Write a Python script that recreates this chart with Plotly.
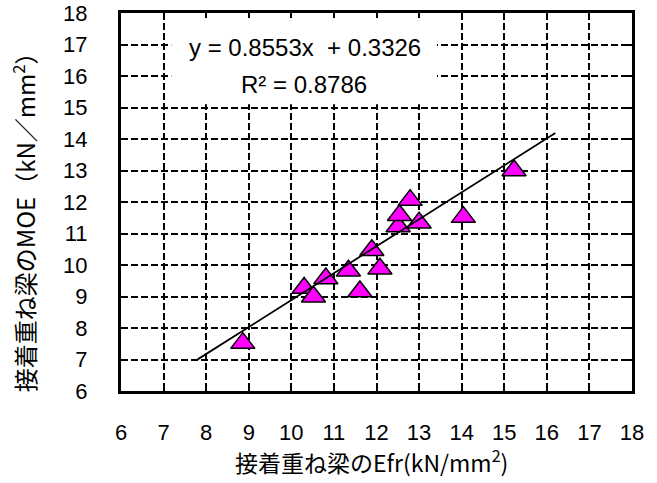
import plotly.graph_objects as go

# Data
efr = [8.86, 10.30, 10.52, 10.81, 11.34, 11.61, 11.89, 12.08, 12.51, 12.54, 12.79, 13.00, 14.04, 15.23]
moe = [7.52, 9.27, 8.99, 9.57, 9.82, 9.16, 10.47, 9.88, 11.22, 11.58, 12.06, 11.34, 11.52, 13.00]

slope = 0.8553
intercept = 0.3326
r2 = 0.8786
trend_x = [7.8, 16.2]
trend_y = [slope * v + intercept for v in trend_x]

tick_vals = list(range(6, 19))

NUM_FONT = "Liberation Sans, Arial, Noto Sans CJK JP, sans-serif"
JP_FONT = "Noto Sans CJK JP, sans-serif"

fig = go.Figure()
fig.add_trace(go.Scatter(
    x=efr, y=moe, mode="markers",
    marker=dict(symbol="triangle-up", size=21, color="#FF00FF",
                line=dict(color="black", width=1.5)),
    showlegend=False, hoverinfo="skip"))
fig.add_trace(go.Scatter(
    x=trend_x, y=trend_y, mode="lines",
    line=dict(color="black", width=1.8),
    showlegend=False, hoverinfo="skip"))

axis_common = dict(
    range=[6, 18], tickvals=tick_vals, ticktext=[str(v) for v in tick_vals],
    showgrid=True, gridcolor="black", gridwidth=2, griddash="7px,3px",
    showline=True, linecolor="black", linewidth=3, mirror="ticks",
    ticks="inside", ticklen=5, tickwidth=2, tickcolor="black",
    zeroline=False, tickfont=dict(family=NUM_FONT, size=22, color="black"),
    fixedrange=True,
)

fig.update_layout(
    width=657, height=483,
    margin=dict(l=121, r=25, t=13, b=92, autoexpand=False),
    paper_bgcolor="white", plot_bgcolor="white",
    xaxis=dict(**axis_common, ticklabelstandoff=20),
    yaxis=dict(**axis_common, ticklabelstandoff=26),
    shapes=[dict(type="rect", xref="x", yref="y", x0=7.18, x1=13.42, y0=15.1, y1=18,
                 fillcolor="white", line=dict(width=0), layer="between")],
    annotations=[
        dict(x=10.32, y=16.91, xref="x", yref="y", text="y = 0.8553x  + 0.3326",
             showarrow=False, font=dict(family=NUM_FONT, size=24, color="black")),
        dict(x=10.30, y=15.74, xref="x", yref="y", text="R² = %.4f" % r2,
             showarrow=False, font=dict(family=NUM_FONT, size=24, color="black")),
        dict(x=0.49, y=-0.186, xref="paper", yref="paper", xanchor="center", yanchor="middle",
             text="接着重ね梁のEfr(kN/mm<sup>2</sup>)", showarrow=False,
             font=dict(family=JP_FONT, size=23, color="black")),
        dict(x=-0.19, y=0.462, xref="paper", yref="paper", xanchor="center", yanchor="middle",
             text="接着重ね梁のMOE（kN／mm<sup>2</sup>）", showarrow=False, textangle=-90,
             font=dict(family=JP_FONT, size=24, color="black")),
    ],
)

fig.write_html("out.html")
